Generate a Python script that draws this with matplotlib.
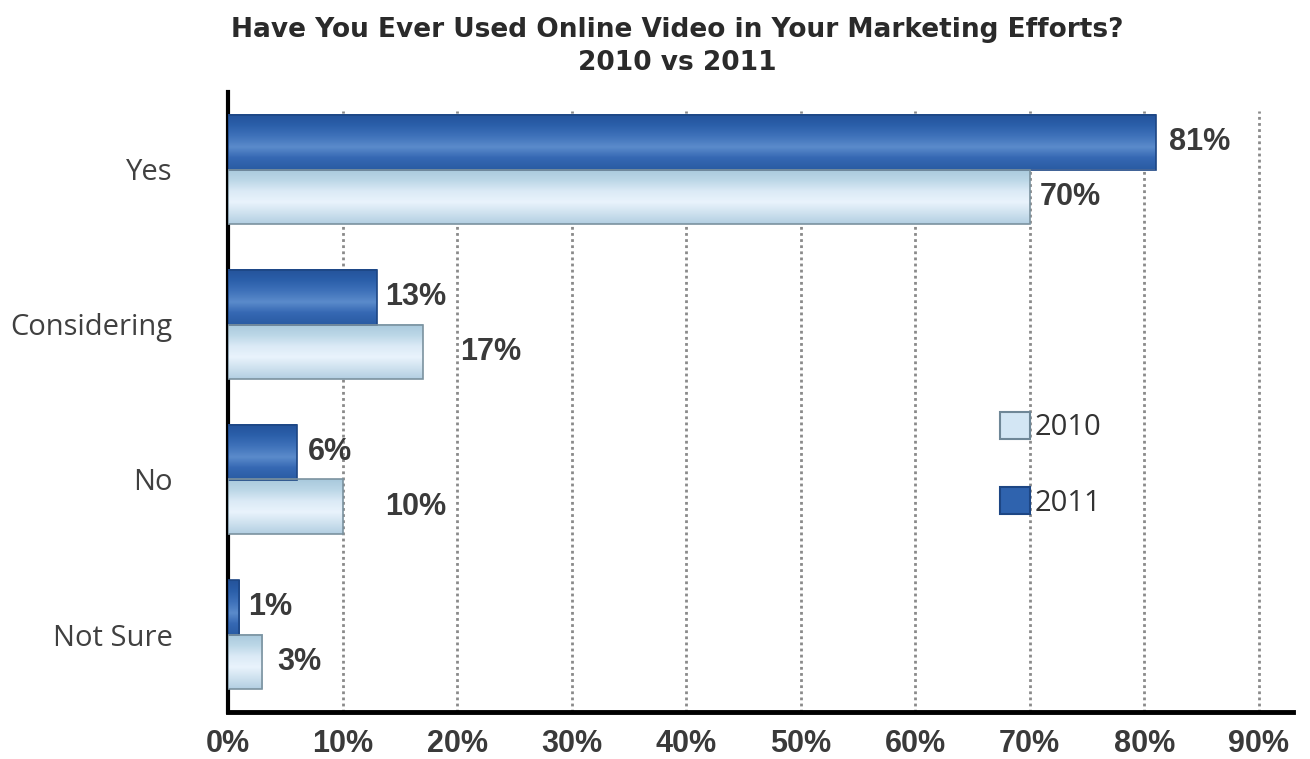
import numpy as np
import matplotlib
matplotlib.use("Agg")
import matplotlib.pyplot as plt
from matplotlib.colors import LinearSegmentedColormap
from matplotlib.patches import Patch

categories = ["Yes", "Considering", "No", "Not Sure"]
share_2011 = [81, 13, 6, 1]
share_2010 = [70, 17, 10, 3]
xticks = [0, 10, 20, 30, 40, 50, 60, 70, 80, 90]

# gaps (pixels) between the bar end and its value label
pad_2011 = [13, 8, 11, 9]
pad_2010 = [10, 37, 43, 15]

num_font = ["Liberation Sans", "DejaVu Sans"]
title_font = ["DejaVu Sans"]
text_grey = "#3a3a3a"

dark_cmap = LinearSegmentedColormap.from_list(
    "dark", ["#2a5ca4", "#3568b3", "#5b8bcb", "#3f72ba", "#2b5faa", "#24539a"])
light_cmap = LinearSegmentedColormap.from_list(
    "light", ["#b3cfe2", "#cfe2ef", "#e9f3fc", "#dbeaf6", "#bcd7e7", "#a9c9dc"])

fig = plt.figure(figsize=(13.1, 7.59), dpi=100)
ax = fig.add_axes([228 / 1310, 1 - 712 / 759, 1065 / 1310, 620 / 759])

y = np.arange(len(categories))
h = 0.35
grad = np.linspace(0, 1, 100).reshape(-1, 1)


def gradient_bars(values, offset, cmap, edge):
    bars = ax.barh(y + offset, values, height=h, color="none",
                   edgecolor=edge, linewidth=1.2, zorder=4)
    for b in bars:
        x0, y0 = b.get_x(), b.get_y()
        ax.imshow(grad, cmap=cmap, aspect="auto", zorder=3,
                  extent=[x0, x0 + b.get_width(), y0, y0 + b.get_height()])
    return bars


bars11 = gradient_bars(share_2011, -h / 2, dark_cmap, "#1d4684")
bars10 = gradient_bars(share_2010, h / 2, light_cmap, "#7b929f")

for bars, vals, pads in [(bars11, share_2011, pad_2011), (bars10, share_2010, pad_2010)]:
    for b, v, p in zip(bars, vals, pads):
        ax.annotate(f"{v}%", (b.get_width(), b.get_y() + b.get_height() / 2),
                    xytext=(p * 0.72, 0), textcoords="offset points",
                    ha="left", va="center", fontsize=22, fontweight="bold",
                    family=num_font, color=text_grey, zorder=5)

# dotted vertical guides
for t in xticks[1:]:
    ax.axvline(t, ymin=0, ymax=0.97, color="#8a8a8a", linestyle=(0, (1, 1.2)),
               linewidth=2, zorder=1)

ax.set_xlim(0, 93)
ax.set_ylim(3.5, -0.5)
ax.set_xticks(xticks)
ax.set_xticklabels([f"{t}%" for t in xticks], fontsize=22, fontweight="bold",
                   family=num_font, color=text_grey)
ax.set_yticks(y)
ax.set_yticklabels(categories, fontsize=21, family="Open Sans", color="#404040")
ax.tick_params(axis="x", length=0, pad=12)
ax.tick_params(axis="y", length=0, pad=40)

for side in ["top", "right"]:
    ax.spines[side].set_visible(False)
ax.spines["left"].set_linewidth(3)
ax.spines["bottom"].set_linewidth(3.5)

handles = [Patch(facecolor="#d3e6f4", edgecolor="#6f8797", linewidth=1.5),
           Patch(facecolor="#2f63ae", edgecolor="#1d4684", linewidth=1.5)]
leg = ax.legend(handles, ["2010", "2011"], loc="upper left",
                bbox_to_anchor=(0.70, 0.527), frameon=False,
                prop={"family": "Open Sans", "size": 21},
                handlelength=1.05, handleheight=1.05, handletextpad=0.15,
                labelspacing=1.55)
for txt in leg.get_texts():
    txt.set_color("#333333")

fig.text(677 / 1310, 1 - 30 / 759, "Have You Ever Used Online Video in Your Marketing Efforts?",
         ha="center", va="center", fontsize=19, fontweight="bold",
         family=title_font, color="#2a2a2a")
fig.text(677 / 1310, 1 - 63 / 759, "2010 vs 2011", ha="center", va="center",
         fontsize=19, fontweight="bold", family=title_font, color="#2a2a2a")

fig.savefig("out.png", dpi=100)
